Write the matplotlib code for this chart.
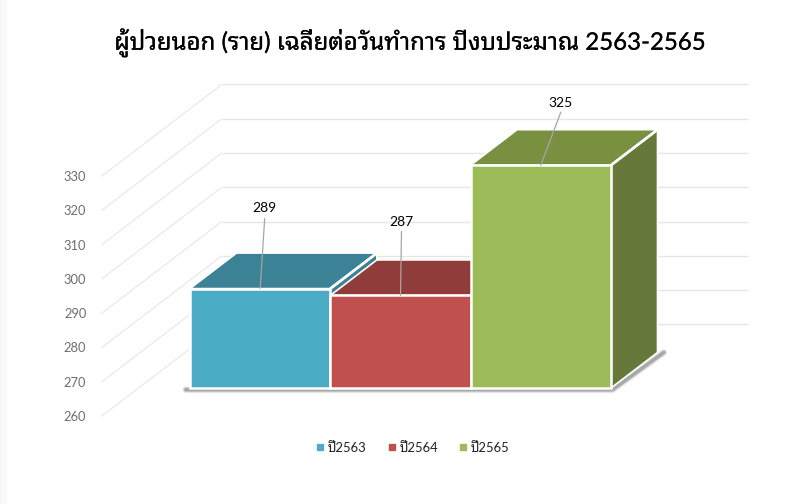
import matplotlib
matplotlib.use("Agg")
import numpy as np
from matplotlib import patheffects
from matplotlib import pyplot as plt
from matplotlib.lines import Line2D
from matplotlib.patches import Polygon

plt.rcParams['font.family'] = ['Lato', 'Noto Sans Thai Looped', 'Noto Sans Thai', 'DejaVu Sans']

title = "ผู้ป่วยนอก (ราย) เฉลี่ยต่อวันทำการ ปีงบประมาณ 2563-2565"
years = ["ปี2563", "ปี2564", "ปี2565"]
patients = [289, 287, 325]
y_ticks = [260, 270, 280, 290, 300, 310, 320, 330]

front_colors = ["#4bacc6", "#c0504d", "#9bbb59"]
top_colors = ["#3c8297", "#8f3c3a", "#78903f"]
side_colors = ["#3c8297", "#7f3533", "#66793a"]

# pixel offsets of the value labels from the top of their bar
label_offsets = [(4.5, 81), (1, 73), (19.5, 62)]
leader_tops = [(4.5, 70), (1, 64), (20, 53)]

# fake 3d: one unit of depth moves a point by this much in data units
DEPTH_X = 0.3314
DEPTH_Y = 10.36
WALL_FRONT = -0.80
WALL_BACK = 1.79
X_MIN = -0.367
X_MAX = 3.385
BASE = y_ticks[0]


def project(x, v, d=0.0):
    return x + d * DEPTH_X, v + d * DEPTH_Y


fig = plt.figure(figsize=(7.94, 5.04), dpi=100)

# faint grey fade along the left edge of the screenshot
fade = np.tile(np.linspace(0.962, 1.0, 12), (504, 1))
fig.figimage(fade, xo=0, yo=0, cmap="gray", vmin=0, vmax=1, zorder=0)

ax = fig.add_axes([0, 0, 1, 1])
ax.set_xlim(-1.354, 4.304)
ax.set_ylim(226.16, 373.19)
ax.axis("off")

# walls
for v in y_ticks:
    xs, ys = zip(project(X_MIN, v, WALL_FRONT), project(X_MIN, v, WALL_BACK))
    ax.plot(xs, ys, color="#e4e4e4", lw=0.7, zorder=1, solid_capstyle="butt")
    xs, ys = zip(project(X_MIN, v, WALL_BACK), project(X_MAX, v, WALL_BACK))
    ax.plot(xs, ys, color="#e6e6e6", lw=1.0, zorder=1, solid_capstyle="butt")
    ax.annotate(str(v), project(X_MIN, v, WALL_FRONT), xytext=(-15, -0.5),
                textcoords="offset pixels", ha="right", va="center",
                fontsize=9.3, color="#6e6e6e")

# soft shadow under the bars
n = len(patients)
shadow = [project(-0.03, BASE - 0.5), project(n + 0.01, BASE - 0.5),
          project(n + 0.035, BASE - 0.3, 1.03)]
for lw, alpha in [(5.0, 0.10), (3.6, 0.16), (2.4, 0.30)]:
    ax.plot(*zip(*shadow), color="#4a4a4a", lw=lw, alpha=alpha, zorder=2,
            solid_capstyle="round", solid_joinstyle="round")

# bars, left to right so each one covers the right face of the one before
for i, value in enumerate(patients):
    z = 3 + i
    x0, x1 = i, i + 1
    top = [project(x0, value), project(x1, value), project(x1, value, 1), project(x0, value, 1)]
    side = [project(x1, BASE), project(x1, value), project(x1, value, 1), project(x1, BASE, 1)]
    front = [project(x0, BASE), project(x1, BASE), project(x1, value), project(x0, value)]
    ax.add_patch(Polygon(top, facecolor=top_colors[i], edgecolor="white", lw=1.2, zorder=z))
    ax.add_patch(Polygon(side, facecolor=side_colors[i], edgecolor="white", lw=1.2, zorder=z))
    ax.plot(*zip(project(x1, value), project(x1, value, 1)), color="white", lw=2.0, zorder=z,
            solid_capstyle="round")
    ax.add_patch(Polygon(front, facecolor=front_colors[i], edgecolor="white", lw=1.8, zorder=z,
                         joinstyle="miter"))

# value labels and their leader lines
for i, value in enumerate(patients):
    anchor = project(i + 0.5, value)
    ax.annotate("", anchor, xytext=leader_tops[i], textcoords="offset pixels", zorder=10,
                arrowprops=dict(arrowstyle="-", color="#a6a6a6", lw=0.9, shrinkA=0, shrinkB=0))
    ax.annotate(str(value), anchor, xytext=label_offsets[i], textcoords="offset pixels",
                ha="center", va="center", fontsize=10, color="black", zorder=10)

title_text = ax.text(0.516, 0.916, title, transform=ax.transAxes, ha="center", va="center",
                     fontsize=17.3, color="black")
title_text.set_path_effects([patheffects.withStroke(linewidth=0.12, foreground="black")])

handles = [Line2D([], [], linestyle="none", marker="s", markersize=4.4, color=c) for c in front_colors]
ax.legend(handles, years, loc="center", bbox_to_anchor=(0.52, 0.112), ncol=3, frameon=False,
          fontsize=9.4, handlelength=0.6, handletextpad=0.3, columnspacing=1.6,
          labelcolor="#222222")

fig.savefig("out.png", dpi=100)
